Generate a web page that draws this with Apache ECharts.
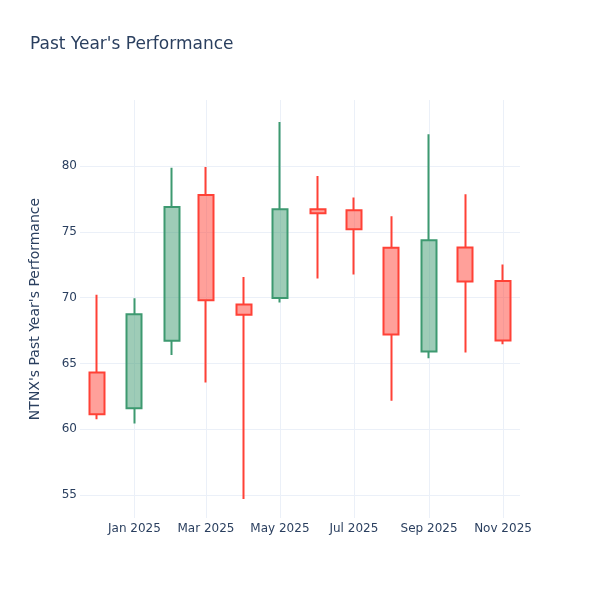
<!DOCTYPE html>
<html>
<head>
<meta charset="utf-8">
<script src="https://cdn.jsdelivr.net/npm/echarts@6/dist/echarts.min.js"></script>
<style>html,body{margin:0;padding:0;background:#fff;}#c{width:600px;height:600px;}</style>
</head>
<body>
<div id="c"></div>
<script>
// Data (monthly candles)
var dates = ['2024-12-01','2025-01-01','2025-02-01','2025-03-01','2025-04-01','2025-05-01','2025-06-01','2025-07-01','2025-08-01','2025-09-01','2025-10-01','2025-11-01'];
var openVals  = [64.31, 61.60, 66.72, 77.80, 69.47, 69.98, 76.71, 76.63, 73.78, 65.91, 73.80, 71.27];
var closeVals = [61.15, 68.74, 76.89, 69.80, 68.69, 76.71, 76.41, 75.19, 67.20, 74.36, 71.22, 66.74];
var lowVals   = [60.77, 60.44, 65.65, 63.55, 54.70, 69.63, 71.45, 71.75, 62.16, 65.40, 65.83, 66.46];
var highVals  = [70.21, 69.95, 79.87, 79.92, 71.57, 83.34, 79.24, 77.60, 76.18, 82.40, 77.85, 72.51];
var xTickDates = ['2025-01-01','2025-03-01','2025-05-01','2025-07-01','2025-09-01','2025-11-01'];
var xTickLabels = ['Jan 2025','Mar 2025','May 2025','Jul 2025','Sep 2025','Nov 2025'];
var yTicks = [55, 60, 65, 70, 75, 80];

var DAY = 86400000;
// day number since 1970 (UTC)
function dayNum(s){ var p = s.split('-'); return Date.UTC(+p[0], +p[1]-1, +p[2]) / DAY; }
var seriesData = dates.map(function(d, i){ return [dayNum(d), openVals[i], closeVals[i], lowVals[i], highVals[i]]; });
var xTickDays = xTickDates.map(dayNum);

var font = 'DejaVu Sans';
var textColor = '#2a3f5f';
var gridColor = '#EBF0F8';

var chart = echarts.init(document.getElementById('c'), null, {renderer: 'canvas'});
chart.setOption({
  animation: false,
  backgroundColor: '#fff',
  title: {
    text: "Past Year's Performance",
    left: 30, top: 36, padding: 0,
    textStyle: {fontFamily: font, fontSize: 17, fontWeight: 'normal', color: textColor}
  },
  grid: {left: 80, right: 80, top: 100, bottom: 82, containLabel: false},
  xAxis: {
    type: 'value',
    min: dayNum(dates[0]) - 13.9,
    max: dayNum(dates[dates.length-1]) + 14.0,
    axisLine: {show: false},
    axisTick: {show: false, customValues: xTickDays},
    splitLine: {show: true, lineStyle: {color: gridColor, width: 1}},
    axisLabel: {
      customValues: xTickDays,
      fontFamily: font, fontSize: 12, color: textColor, margin: 5,
      formatter: function(v){
        for (var i = 0; i < xTickDays.length; i++) { if (Math.abs(xTickDays[i] - v) < 0.5) return xTickLabels[i]; }
        return '';
      }
    }
  },
  yAxis: {
    type: 'value',
    min: 53.26, max: 85.01,
    name: "NTNX's Past Year's Performance",
    nameLocation: 'middle', nameGap: 38, nameRotate: 90,
    nameTextStyle: {fontFamily: font, fontSize: 14, color: textColor},
    axisLine: {show: false},
    axisTick: {show: false, customValues: yTicks},
    splitLine: {show: true, lineStyle: {color: gridColor, width: 1}},
    axisLabel: {customValues: yTicks, fontFamily: font, fontSize: 12, color: textColor, margin: 3}
  },
  series: [{
    type: 'candlestick',
    data: seriesData,
    barWidth: 15.5,
    itemStyle: {
      color: 'rgba(61,153,112,0.5)',
      color0: 'rgba(255,65,54,0.5)',
      borderColor: '#3D9970',
      borderColor0: '#FF4136',
      borderWidth: 2
    }
  }]
});
</script>
</body>
</html>
